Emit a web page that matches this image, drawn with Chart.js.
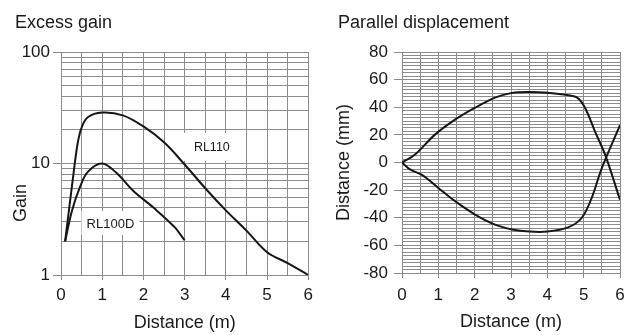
<!DOCTYPE html>
<html><head><meta charset="utf-8">
<script src="https://cdn.jsdelivr.net/npm/chart.js@4/dist/chart.umd.min.js"></script>
<style>
html,body{margin:0;padding:0;background:#fff;}
#wrap{position:relative;width:636px;height:335px;overflow:hidden;}
.box{position:absolute;top:0;width:318px;height:335px;}
</style></head><body>
<div id="wrap">
<div class="box" style="left:0"><canvas id="gain"></canvas></div>
<div class="box" style="left:318px"><canvas id="disp"></canvas></div>
</div>
<script>
// ---- Excess gain (log) ----
const rl110Distance = [0.1, 0.33, 0.41, 0.5, 0.65, 1.0, 1.5, 2.0, 2.5, 3.0, 3.5, 4.0, 4.5, 5.0, 5.5, 6.0];
const rl110Gain     = [2,   9.7,  15.6, 21,  26,   28.6, 27, 21.5, 15.5, 9.8, 6.0, 3.8, 2.5, 1.6, 1.28, 1.0];
const rl100dDistance = [0.1, 0.26, 0.45, 0.65, 1.0, 1.35, 1.75, 2.25, 2.75, 3.0];
const rl100dGain     = [2,   3.7,  6.0,  8.4,  10,  8.2,  5.7,  4.0,  2.7,  2.05];
const gainGridValues = [1,2,3,4,5,6,7,8,9,10,20,30,40,50,60,70,80,90,100];
const gainTickLabels = [1,10,100];
const distanceGridValues = [0,0.5,1,1.5,2,2.5,3,3.5,4,4.5,5,5.5,6];
const distanceTickLabels = [0,1,2,3,4,5,6];

// ---- Parallel displacement ----
const dispUpperDistance = [0, 0.36, 0.9, 1.46, 2.0, 2.56, 3.03, 3.5, 4.0, 4.5, 4.82, 5.04, 5.31, 5.6, 6.0];
const dispUpperValue    = [0, 5.8,  20,  31,   39.5, 47,  50.4, 51,  50.5, 49, 47,  39.5, 22.5, 5,  -27];
const dispLowerDistance = [0, 0.22, 0.55, 1.0, 1.46, 2.0, 2.56, 3.03, 3.5, 4.0, 4.57, 4.95, 5.23, 5.5, 6.0];
const dispLowerValue    = [0, -5,   -9,  -18.4, -28, -37.5, -45, -48.5, -50, -50, -47, -40, -25, -4, 27];
const dispGridValues = [];
for (let v = -80; v <= 80; v += 2.5) dispGridValues.push(v);
const dispTickLabels = [-80,-60,-40,-20,0,20,40,60,80];

const FONT = "'Liberation Sans', Arial, Helvetica, sans-serif";
Chart.defaults.font.family = FONT;
Chart.defaults.color = '#1a1a1a';
const GRID = '#8c8c8c';
const LINE = '#161616';
const CLEAR = 'rgba(0,0,0,0)';

const pts = (xs, ys) => xs.map((x, i) => ({x, y: ys[i]}));

const textPlugin = {
  id: 'texts',
  beforeDatasetsDraw(chart, args, opts) {
    const ctx = chart.ctx;
    (opts.boxes || []).forEach(b => {
      const cx = chart.scales.x.getPixelForValue(b.x);
      const cy = chart.scales.y.getPixelForValue(b.y);
      ctx.save();
      ctx.fillStyle = '#fff';
      ctx.fillRect(cx - b.w / 2, cy - b.h / 2, b.w, b.h);
      ctx.fillStyle = '#1a1a1a';
      ctx.font = b.size + 'px ' + FONT;
      ctx.textAlign = 'center';
      ctx.textBaseline = 'middle';
      ctx.fillText(b.text, cx, cy + 1);
      ctx.restore();
    });
  },
  afterDatasetsDraw(chart, args, opts) {
    const ctx = chart.ctx;
    (opts.texts || []).forEach(t => {
      ctx.save();
      ctx.fillStyle = '#1a1a1a';
      ctx.font = t.size + 'px ' + FONT;
      ctx.textAlign = t.align || 'left';
      ctx.textBaseline = t.baseline || 'alphabetic';
      ctx.translate(t.x, t.y);
      if (t.rot) ctx.rotate(t.rot);
      ctx.fillText(t.text, 0, 0);
      ctx.restore();
    });
  }
};

function lineDs(label, data) {
  return {label, data, borderColor: LINE, borderWidth: 2, pointRadius: 0,
          tension: 0.35, fill: false};
}

new Chart(document.getElementById('gain'), {
  type: 'line',
  data: { datasets: [lineDs('RL110', pts(rl110Distance, rl110Gain)), lineDs('RL100D', pts(rl100dDistance, rl100dGain))] },
  options: {
    responsive: true, maintainAspectRatio: false, animation: false,
    layout: { padding: { left: 0, right: 6, top: 52, bottom: 0 } },
    plugins: {
      legend: { display: false }, tooltip: { enabled: false },
      texts: {
        texts: [
          { text: 'Excess gain', x: 15, y: 28, size: 18 },
          { text: 'Gain', x: 21, y: 203, size: 18, rot: -Math.PI / 2, align: 'center', baseline: 'middle' }
        ],
        boxes: [
          { text: 'RL110', x: 3.66, y: 14.1, w: 64, h: 28, size: 12.5 },
          { text: 'RL100D', x: 1.2, y: 2.93, w: 58, h: 24, size: 13 }
        ]
      }
    },
    scales: {
      x: {
        type: 'linear', min: 0, max: 6,
        afterBuildTicks: s => { s.ticks = distanceGridValues.map(v => ({ value: v })); },
        afterFit: s => { s.height = 60; },
        ticks: { autoSkip: false, maxRotation: 0, padding: 5, font: { size: 17 },
                 callback: v => distanceTickLabels.includes(v) ? String(v) : '' },
        grid: { color: GRID, lineWidth: 1, tickLength: 5,
                tickColor: c => (c.tick && distanceTickLabels.includes(c.tick.value)) ? GRID : CLEAR },
        border: { display: true, color: GRID, width: 1 },
        title: { display: true, text: 'Distance (m)', font: { size: 18 }, padding: { top: 0, bottom: 1 } }
      },
      y: {
        type: 'logarithmic', min: 1, max: 100,
        afterBuildTicks: s => { s.ticks = gainGridValues.map(v => ({ value: v })); },
        afterFit: s => { s.width = 61; },
        ticks: { autoSkip: false, padding: 3, font: { size: 17 },
                 callback: v => gainTickLabels.includes(v) ? String(v) : '' },
        grid: { color: GRID, lineWidth: 1, tickLength: 8,
                tickColor: c => (c.tick && gainTickLabels.includes(c.tick.value)) ? GRID : CLEAR },
        border: { display: true, color: GRID, width: 1 }
      }
    }
  },
  plugins: [textPlugin]
});

new Chart(document.getElementById('disp'), {
  type: 'line',
  data: { datasets: [lineDs('Upper', pts(dispUpperDistance, dispUpperValue)), lineDs('Lower', pts(dispLowerDistance, dispLowerValue))] },
  options: {
    responsive: true, maintainAspectRatio: false, animation: false,
    layout: { padding: { left: 0, right: 16, top: 52, bottom: 0 } },
    plugins: {
      legend: { display: false }, tooltip: { enabled: false },
      texts: { texts: [ { text: 'Parallel displacement', x: 20, y: 28, size: 18 } ] }
    },
    scales: {
      x: {
        type: 'linear', min: 0, max: 6,
        afterBuildTicks: s => { s.ticks = distanceGridValues.map(v => ({ value: v })); },
        afterFit: s => { s.height = 62; },
        ticks: { autoSkip: false, maxRotation: 0, padding: 7, font: { size: 17 },
                 callback: v => distanceTickLabels.includes(v) ? String(v) : '' },
        grid: { color: GRID, lineWidth: 1, tickLength: 5,
                tickColor: c => (c.tick && distanceTickLabels.includes(c.tick.value)) ? GRID : CLEAR },
        border: { display: true, color: GRID, width: 1 },
        title: { display: true, text: 'Distance (m)', font: { size: 18 }, padding: { top: 0, bottom: 2 } }
      },
      y: {
        type: 'linear', min: -80, max: 80,
        afterBuildTicks: s => { s.ticks = dispGridValues.map(v => ({ value: v })); },
        afterFit: s => { s.width = 84; },
        ticks: { autoSkip: false, padding: 6, font: { size: 17 },
                 callback: v => dispTickLabels.includes(v) ? String(v) : '' },
        grid: { color: GRID, lineWidth: 1, tickLength: 8,
                tickColor: c => (c.tick && dispTickLabels.includes(c.tick.value)) ? GRID : CLEAR },
        border: { display: true, color: GRID, width: 1 },
        title: { display: true, text: 'Distance (mm)', font: { size: 18 }, padding: { top: 15, bottom: 0 } }
      }
    }
  },
  plugins: [textPlugin]
});
</script>
</body></html>
